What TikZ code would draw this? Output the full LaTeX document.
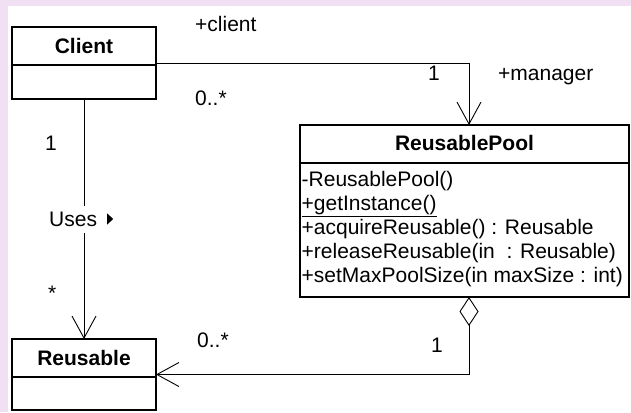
\documentclass[tikz,border=0pt]{standalone}
\usepackage{fontspec}
\setmainfont{Liberation Sans}
\usetikzlibrary{arrows.meta}
\definecolor{lav}{RGB}{241,224,243}
\begin{document}
\begin{tikzpicture}[x=1pt,y=-1pt,
  box/.style={draw, line width=1.2pt, inner sep=0pt, outer sep=0pt},
  txt/.style={inner sep=0pt, font=\fontsize{21}{21}\selectfont},
  ttl/.style={inner sep=0pt, font=\fontsize{21}{21}\selectfont\bfseries, anchor=base},
  lbl/.style={txt, anchor=base west},
  conn/.style={line width=0.9pt},
  barb/.style={-{Straight Barb[length=22pt,width=24pt]}},
  agg/.style={{Diamond[open,length=29pt,width=19pt]}-{Straight Barb[length=22pt,width=24pt]}}
]
\fill[lav] (0,0) rectangle (631,412);
\fill[white] (7.5,6.5) rectangle (631,412);
\useasboundingbox (0,0) rectangle (631,412);

% class boxes
\node[box, minimum width=144pt, minimum height=72pt] (client) at (84,63) {};
\node[box, minimum width=144pt, minimum height=71pt] (reusable) at (84,374.5) {};
\node[box, minimum width=329pt, minimum height=172pt] (pool) at (464.5,211) {};

\draw[line width=1.2pt] ([yshift=-38pt]client.north west) -- ([yshift=-38pt]client.north east);
\draw[line width=1.2pt] ([yshift=-38pt]reusable.north west) -- ([yshift=-38pt]reusable.north east);
\draw[line width=1.2pt] ([yshift=-38pt]pool.north west) -- ([yshift=-38pt]pool.north east);

% titles
\node[ttl] (clientname) at (84,53) {Client};
\node[ttl] (poolname) at (464.5,150) {ReusablePool};
\node[ttl] (reusablename) at (84,365) {Reusable};

% operations
\node[lbl] (m1) at (301.5,186.5) {-ReusablePool()};
\node[lbl] (m2) at (301.5,210.5) {+getInstance()};
\draw[line width=1pt] ([yshift=-6pt]m2.base west) -- ([yshift=-6pt]m2.base east);
\node[lbl] (m3) at (301.5,234.5) {+acquireReusable() : Reusable};
\node[lbl] (m4) at (301.5,258.5) {+releaseReusable(in\ \ : Reusable)};
\node[lbl] (m5) at (301.5,282.5) {+setMaxPoolSize(in maxSize : int)};

% connectors
\draw[conn, barb] (client.east) -| ([xshift=4.5pt]pool.north);
\draw[conn, barb] (client.south) -- (reusable.north);
\draw[conn, agg] ([xshift=4.5pt]pool.south) |- (reusable.east);

% labels
\node[lbl] (lclient) at (195,31.5) {+client};
\node[lbl] (lclientm) at (195,105) {0..*};
\node[lbl] (lpoolm) at (428,80) {1};
\node[lbl] (lmanager) at (498,80) {+manager};
\node[lbl] (lusesone) at (45,150) {1};
\node[lbl] (lusesmany) at (48,300) {*};
\node[lbl] (laggmany) at (197,347) {0..*};
\node[lbl] (laggone) at (431,352) {1};
\node[txt, anchor=base west, fill=white, text height=15pt, text depth=0pt, inner xsep=1pt, inner ysep=6pt] (uses) at (48,226.5) {Uses};
\fill ([xshift=9pt]uses.east) -- ++(0,5.5) -- ++(6,-5.5) -- ++(-6,-5.5) -- cycle;
\end{tikzpicture}
\end{document}
